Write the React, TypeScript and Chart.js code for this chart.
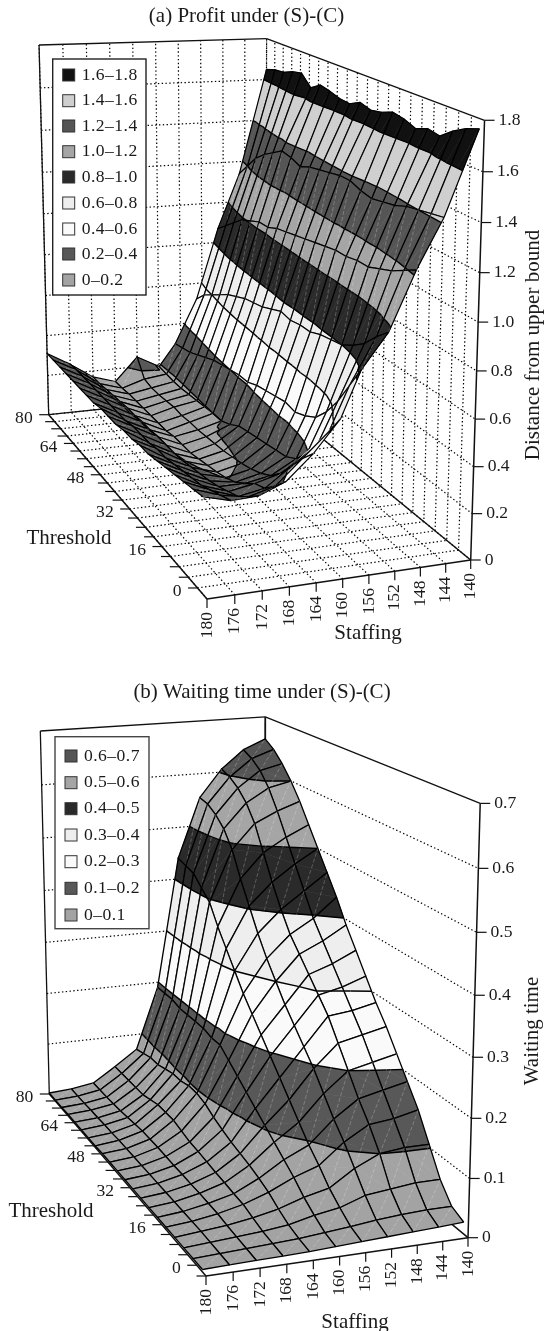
import React, { useEffect, useRef } from "react";
import { Chart, registerables } from "chart.js";

Chart.register(...registerables);

// ---------- data ----------
const thresholdGrid = [0, 4, 8, 12, 16, 20, 24, 28, 32, 36, 40, 44, 48, 52, 56, 60, 64, 68, 72, 76, 80];
const thresholdTicks = [0, 4, 8, 12, 16, 20, 24, 28, 32, 36, 40, 44, 48, 52, 56, 60, 64, 68, 72, 76, 80];
const thresholdLabels = [0, 16, 32, 48, 64, 80];
const staffingTicks = [180, 176, 172, 168, 164, 160, 156, 152, 148, 144, 140];

// (a) distance from upper bound: one row per staffing level, threshold 0..80
const profitStaffing = [140, 145, 149, 153, 157, 160, 164, 168, 172, 176, 180];
const profit140 = [1.76, 1.74, 1.71, 1.67, 1.68, 1.66, 1.68, 1.69, 1.67, 1.66, 1.675, 1.65, 1.655, 1.67, 1.68, 1.65, 1.7, 1.69, 1.67, 1.665, 1.65];
const profit145 = [1.42, 1.41, 1.4, 1.39, 1.37, 1.36, 1.35, 1.36, 1.38, 1.38, 1.37, 1.36, 1.35, 1.33, 1.35, 1.36, 1.33, 1.3, 1.26, 1.2, 1.14];
const profit149 = [1.22, 1.19, 1.16, 1.14, 1.12, 1.12, 1.11, 1.11, 1.1, 1.09, 1.08, 1.07, 1.06, 1.05, 1.03, 1.03, 1.01, 0.99, 0.95, 0.91, 0.87];
const profit153 = [0.98, 0.93, 0.87, 0.83, 0.8, 0.79, 0.78, 0.76, 0.76, 0.75, 0.76, 0.74, 0.72, 0.71, 0.7, 0.68, 0.66, 0.63, 0.6, 0.57, 0.52];
const profit157 = [0.84, 0.74, 0.64, 0.56, 0.5, 0.47, 0.45, 0.46, 0.45, 0.44, 0.43, 0.41, 0.41, 0.4, 0.39, 0.38, 0.36, 0.34, 0.32, 0.31, 0.3];
const profit160 = [0.65, 0.56, 0.47, 0.39, 0.33, 0.3, 0.29, 0.28, 0.27, 0.26, 0.25, 0.22, 0.2, 0.2, 0.195, 0.19, 0.185, 0.18, 0.18, 0.185, 0.19];
const profit164 = [0.52, 0.46, 0.39, 0.32, 0.27, 0.24, 0.22, 0.205, 0.195, 0.185, 0.18, 0.175, 0.17, 0.17, 0.165, 0.17, 0.165, 0.16, 0.16, 0.17, 0.25];
const profit168 = [0.42, 0.36, 0.31, 0.29, 0.25, 0.215, 0.195, 0.18, 0.17, 0.16, 0.15, 0.15, 0.15, 0.14, 0.14, 0.14, 0.14, 0.14, 0.14, 0.135, 0.135];
const profit172 = [0.375, 0.33, 0.29, 0.27, 0.25, 0.235, 0.225, 0.215, 0.205, 0.2, 0.2, 0.2, 0.195, 0.195, 0.19, 0.19, 0.185, 0.18, 0.175, 0.17, 0.17];
const profit176 = [0.37, 0.35, 0.33, 0.31, 0.3, 0.29, 0.28, 0.27, 0.27, 0.26, 0.26, 0.26, 0.25, 0.25, 0.25, 0.25, 0.25, 0.25, 0.25, 0.25, 0.245];
const profit180 = [0.4, 0.39, 0.38, 0.37, 0.36, 0.35, 0.34, 0.34, 0.33, 0.33, 0.32, 0.32, 0.32, 0.31, 0.31, 0.31, 0.31, 0.31, 0.31, 0.31, 0.31];
const profitRows = [profit140, profit145, profit149, profit153, profit157, profit160, profit164, profit168, profit172, profit176, profit180];
const profitBandLow = [0, 0.2, 0.4, 0.6, 0.8, 1.0, 1.2, 1.4, 1.6];
const profitBandLabels = ["0–0.2", "0.2–0.4", "0.4–0.6", "0.6–0.8", "0.8–1.0", "1.0–1.2", "1.2–1.4", "1.4–1.6", "1.6–1.8"];
const profitBandColors = ["#a3a3a3", "#585858", "#fafafa", "#eeeeee", "#2a2a2a", "#a5a5a5", "#555555", "#cfcfcf", "#111111"];
const profitZTicks = [0, 0.2, 0.4, 0.6, 0.8, 1.0, 1.2, 1.4, 1.6, 1.8];

// (b) waiting time: one row per staffing level, threshold 0..80
const waitStaffing = [140, 144, 148, 152, 156, 160, 164, 168, 172, 176, 180];
const wait140 = [0.02, 0.03, 0.06, 0.105, 0.15, 0.185, 0.22, 0.255, 0.285, 0.32, 0.355, 0.39, 0.43, 0.465, 0.5, 0.535, 0.57, 0.6, 0.625, 0.645, 0.658];
const wait144 = [0.018, 0.03, 0.06, 0.105, 0.14, 0.175, 0.21, 0.245, 0.275, 0.305, 0.335, 0.365, 0.395, 0.435, 0.475, 0.515, 0.555, 0.59, 0.615, 0.63, 0.64];
const wait148 = [0.016, 0.028, 0.055, 0.1, 0.135, 0.165, 0.2, 0.235, 0.27, 0.295, 0.32, 0.345, 0.37, 0.405, 0.445, 0.49, 0.535, 0.565, 0.585, 0.598, 0.606];
const wait152 = [0.014, 0.025, 0.05, 0.08, 0.11, 0.135, 0.165, 0.195, 0.22, 0.245, 0.27, 0.3, 0.33, 0.365, 0.405, 0.445, 0.49, 0.52, 0.538, 0.55, 0.554];
const wait156 = [0.012, 0.02, 0.035, 0.052, 0.075, 0.095, 0.12, 0.145, 0.17, 0.195, 0.22, 0.245, 0.27, 0.3, 0.33, 0.36, 0.395, 0.412, 0.43, 0.435, 0.44];
const wait160 = [0.01, 0.016, 0.028, 0.042, 0.06, 0.075, 0.09, 0.105, 0.12, 0.135, 0.15, 0.165, 0.18, 0.18, 0.185, 0.185, 0.185, 0.185, 0.19, 0.19, 0.19];
const wait164 = [0.008, 0.012, 0.018, 0.028, 0.04, 0.048, 0.055, 0.06, 0.065, 0.072, 0.08, 0.09, 0.095, 0.095, 0.09, 0.09, 0.085, 0.08, 0.08, 0.075, 0.07];
const wait168 = [0.007, 0.01, 0.013, 0.019, 0.025, 0.027, 0.03, 0.032, 0.035, 0.038, 0.04, 0.045, 0.05, 0.05, 0.05, 0.045, 0.04, 0.04, 0.04, 0.04, 0.04];
const wait172 = [0.006, 0.008, 0.01, 0.012, 0.015, 0.016, 0.017, 0.017, 0.018, 0.018, 0.019, 0.02, 0.02, 0.02, 0.018, 0.016, 0.014, 0.013, 0.012, 0.012, 0.012];
const wait176 = [0.005, 0.006, 0.007, 0.008, 0.008, 0.008, 0.008, 0.008, 0.008, 0.008, 0.008, 0.008, 0.008, 0.008, 0.007, 0.007, 0.006, 0.006, 0.005, 0.005, 0.005];
const wait180 = [0.004, 0.004, 0.004, 0.004, 0.004, 0.004, 0.004, 0.004, 0.004, 0.004, 0.004, 0.004, 0.004, 0.003, 0.003, 0.003, 0.003, 0.003, 0.002, 0.002, 0.002];
const waitRows = [wait140, wait144, wait148, wait152, wait156, wait160, wait164, wait168, wait172, wait176, wait180];
const waitBandLow = [0, 0.1, 0.2, 0.3, 0.4, 0.5, 0.6];
const waitBandLabels = ["0–0.1", "0.1–0.2", "0.2–0.3", "0.3–0.4", "0.4–0.5", "0.5–0.6", "0.6–0.7"];
const waitBandColors = ["#a3a3a3", "#585858", "#fafafa", "#eeeeee", "#2a2a2a", "#a5a5a5", "#555555"];
const waitZTicks = [0, 0.1, 0.2, 0.3, 0.4, 0.5, 0.6, 0.7];

// ---------- camera: where the corners of the 3D box fall on the page ----------
type P = [number, number];
interface Camera { F: P; R: P; L: P; B: P; Rt: P; Lt: P; Bt: P }
const cameraA: Camera = { F: [207, 599], R: [470.7, 560], L: [48.7, 414.7], B: [265.5, 392], Rt: [485, 119.3], Lt: [39.3, 48.3], Bt: [266, 36.3] };
const cameraB: Camera = { F: [206, 1276], R: [468, 1237.7], L: [49.3, 1094], B: [264.5, 1069], Rt: [481.7, 801], Lt: [40.7, 730.7], Bt: [263.7, 719] };

function makeProjector(c: Camera, zMax: number) {
  const dx1 = c.R[0] - c.B[0], dx2 = c.L[0] - c.B[0], sx = c.F[0] - c.R[0] + c.B[0] - c.L[0];
  const dy1 = c.R[1] - c.B[1], dy2 = c.L[1] - c.B[1], sy = c.F[1] - c.R[1] + c.B[1] - c.L[1];
  const det = dx1 * dy2 - dx2 * dy1;
  const g = (sx * dy2 - dx2 * sy) / det, h = (dx1 * sy - sx * dy1) / det;
  const a = c.R[0] - c.F[0] + g * c.R[0], b = c.L[0] - c.F[0] + h * c.L[0];
  const d = c.R[1] - c.F[1] + g * c.R[1], e = c.L[1] - c.F[1] + h * c.L[1];
  const tops: [number, number, P][] = [[1, 0, c.Rt], [0, 1, c.Lt], [1, 1, c.Bt]];
  let best = { k: 0, m: 0, n: 0, err: Infinity };
  for (let k = -0.6; k < 0.6; k += 0.0005) {
    let m = 0, n = 0;
    const res = tops.map(([s, t, p]) => {
      const D = g * s + h * t + 1 + k;
      return [p[0] * D - (a * s + b * t + c.F[0]), p[1] * D - (d * s + e * t + c.F[1])];
    });
    res.forEach((r) => { m += r[0] / 3; n += r[1] / 3; });
    let err = 0;
    res.forEach((r) => { err += (r[0] - m) ** 2 + (r[1] - n) ** 2; });
    if (err < best.err) best = { k, m, n, err };
  }
  return (S: number, T: number, z: number) => {
    const s = (180 - S) / 40, t = (T + 4) / 84, zn = z / zMax;
    const D = g * s + h * t + 1 + best.k * zn;
    return { x: (a * s + b * t + c.F[0] + best.m * zn) / D, y: (d * s + e * t + c.F[1] + best.n * zn) / D };
  };
}

// ---------- dataset helpers ----------
type XY = { x: number; y: number };
function stroke(data: XY[], color: string, width: number, dash: number[] = []) {
  return { data, showLine: true, pointRadius: 0, borderColor: color, borderWidth: width, borderDash: dash, fill: false, tension: 0, parsing: false, normalized: false, borderCapStyle: "butt" };
}
function poly(data: XY[], fillColor: string, edge: string, width: number) {
  return { data: [...data, data[0]], showLine: true, pointRadius: 0, borderColor: edge, borderWidth: width, fill: "shape", backgroundColor: fillColor, tension: 0, parsing: false, borderJoinStyle: "round" };
}

type V = { S: number; T: number; z: number };
function lerpV(a: V, b: V, z: number): V {
  const f = (z - a.z) / (b.z - a.z);
  return { S: a.S + f * (b.S - a.S), T: a.T + f * (b.T - a.T), z };
}
function clipAbove(pts: V[], lo: number, keepAbove: boolean): V[] {
  const out: V[] = [];
  const inside = (v: V) => (keepAbove ? v.z >= lo : v.z <= lo);
  pts.forEach((p, i) => {
    const q = pts[(i + 1) % pts.length];
    if (inside(p)) out.push(p);
    if (inside(p) !== inside(q)) out.push(lerpV(p, q, lo));
  });
  return out;
}

interface SurfaceSpec {
  staffing: number[]; rows: number[][]; low: number[]; colors: string[]; zMax: number; meshWidth: number;
}
// the surface's first threshold line sits just inside the box corner
const surfT = (T: number) => (T * 82.5) / 80 - 2.5;

function surfaceLayers(spec: SurfaceSpec, proj: (S: number, T: number, z: number) => XY) {
  const out: any[] = [];
  const { staffing, rows, low, colors, meshWidth } = spec;
  const P = (v: V) => proj(v.S, surfT(v.T), v.z);
  const band = (z: number) => {
    let b = 0;
    low.forEach((l, i) => { if (z >= l) b = i; });
    return b;
  };
  for (let it = thresholdGrid.length - 2; it >= 0; it--) {
    for (let is = 0; is < staffing.length - 1; is++) {
      const v = (i: number, j: number): V => ({ S: staffing[i], T: thresholdGrid[j], z: rows[i][j] });
      const q = [v(is, it), v(is + 1, it), v(is + 1, it + 1), v(is, it + 1)];
      const bands = q.map((p) => band(p.z));
      const lo = Math.min(...bands), hi = Math.max(...bands);
      const tris = [[q[0], q[1], q[2]], [q[0], q[2], q[3]]];
      if (lo === hi) {
        out.push(poly(q.map(P), colors[lo], "#000", meshWidth));
      } else {
        tris.forEach((tri) => {
          for (let b = lo; b <= hi; b++) {
            let pg = tri;
            if (b > 0) pg = clipAbove(pg, low[b], true);
            if (b < low.length - 1 && pg.length) pg = clipAbove(pg, low[b + 1], false);
            if (pg.length >= 3) out.push(poly(pg.map(P), colors[b], colors[b], 0.6));
          }
        });
        tris.forEach((tri) => {
          low.slice(1).forEach((L) => {
            const cut: XY[] = [];
            tri.forEach((p, i) => {
              const n = tri[(i + 1) % 3];
              if ((p.z >= L) !== (n.z >= L)) cut.push(P(lerpV(p, n, L)));
            });
            if (cut.length === 2) out.push(stroke(cut, "#000", meshWidth + 0.2));
          });
        });
        out.push(stroke([...q, q[0]].map(P), "#000", meshWidth));
      }
      // faint facet edge
      const mid = colors[band((q[0].z + q[2].z) / 2)];
      if (mid !== "#fafafa" && mid !== "#eeeeee" && mid !== "#cfcfcf") {
        out.push(stroke([P(q[1]), P(q[3])], "rgba(255,255,255,0.4)", 0.6, [4, 2]));
      }
    }
  }
  return out;
}

function boxLayers(proj: (S: number, T: number, z: number) => XY, zTicks: number[], zMax: number, detailed: boolean) {
  const out: any[] = [];
  const dots = [1.4, 2.4];
  const dotC = "#000";
  zTicks.slice(1, -1).forEach((z) => {
    out.push(stroke([proj(180, 80, z), proj(140, 80, z), proj(140, -4, z)], dotC, 1.2, dots));
  });
  if (detailed) {
    thresholdTicks.forEach((T) => {
      out.push(stroke([proj(180, T, 0), proj(140, T, 0), proj(140, T, zMax)], dotC, 1.2, dots));
    });
    staffingTicks.forEach((S) => {
      out.push(stroke([proj(S, -4, 0), proj(S, 80, 0), proj(S, 80, zMax)], dotC, 1.2, dots));
    });
  }
  const solid = (a: XY, b: XY, w = 1.3) => out.push(stroke([a, b], "#111", w));
  solid(proj(180, 80, 0), proj(180, 80, zMax));
  solid(proj(180, 80, zMax), proj(140, 80, zMax));
  solid(proj(140, 80, zMax), proj(140, -4, zMax));
  solid(proj(140, -4, 0), proj(140, -4, zMax), 1.5);
  solid(proj(180, -4, 0), proj(140, -4, 0), 1.5);
  solid(proj(180, -4, 0), proj(180, 80, 0), 1.5);
  solid(proj(180, 80, 0), proj(140, 80, 0));
  solid(proj(140, -4, 0), proj(140, 80, 0), 1.5);
  if (!detailed) solid(proj(140, 80, 0), proj(140, 80, zMax), 1.8);

  // tick marks
  const T0 = detailed ? thresholdTicks : [-4, ...thresholdTicks];
  T0.forEach((T) => {
    const p = proj(180, T, 0);
    out.push(stroke([p, { x: p.x - 9.5, y: p.y }], "#111", 1.2));
  });
  staffingTicks.forEach((S) => {
    const p = proj(S, -4, 0);
    out.push(stroke([p, { x: p.x, y: p.y + 9 }], "#111", 1.2));
  });
  zTicks.forEach((z) => {
    const p = proj(140, -4, z);
    out.push(stroke([p, { x: p.x + 10, y: p.y }], "#111", 1.2));
  });
  return out;
}

// ---------- page text ----------
interface Dressing {
  title: string; titleX: number; titleY: number;
  zTicks: number[]; zDigits: number;
  legend: { x0: number; y0: number; x1: number; y1: number; rowYs: number[]; labels: string[]; colors: string[]; edge: string };
  thresholdLabel: [number, number]; staffingLabel: [number, number];
  zTitle: string; zTitleAt: [number, number];
}

const SERIF = '"Liberation Serif", serif';
function textPlugin(d: Dressing, proj: (S: number, T: number, z: number) => XY, top: number) {
  return {
    id: "textLayer",
    afterDatasetsDraw(chart: any) {
      const ctx: CanvasRenderingContext2D = chart.ctx;
      const sx = chart.scales.x, sy = chart.scales.y;
      const X = (v: number) => sx.getPixelForValue(v), Y = (v: number) => sy.getPixelForValue(v);
      ctx.save();
      ctx.fillStyle = "#1a1a1a";
      ctx.textBaseline = "middle";
      ctx.font = `21px ${SERIF}`;
      ctx.textAlign = "center";
      ctx.fillText(d.title, X(d.titleX), Y(d.titleY));
      ctx.fillText("Threshold", X(d.thresholdLabel[0]), Y(d.thresholdLabel[1]));
      ctx.fillText("Staffing", X(d.staffingLabel[0]), Y(d.staffingLabel[1]));
      ctx.save();
      ctx.translate(X(d.zTitleAt[0]), Y(d.zTitleAt[1]));
      ctx.rotate(-Math.PI / 2);
      ctx.fillText(d.zTitle, 0, 0);
      ctx.restore();

      ctx.font = `17.6px ${SERIF}`;
      ctx.textAlign = "right";
      thresholdLabels.forEach((T) => {
        const p = proj(180, T, 0);
        ctx.fillText(String(T), X(p.x - 16), Y(p.y + 3.5));
      });
      staffingTicks.forEach((S) => {
        const p = proj(S, -4, 0);
        ctx.save();
        ctx.translate(X(p.x), Y(p.y + 13));
        ctx.rotate(-Math.PI / 2);
        ctx.fillText(String(S), 0, 0);
        ctx.restore();
      });
      ctx.textAlign = "left";
      d.zTicks.forEach((z) => {
        const p = proj(140, -4, z);
        ctx.fillText(z === 0 ? "0" : z.toFixed(d.zDigits), X(p.x + 14), Y(p.y));
      });

      const L = d.legend;
      ctx.fillStyle = "#fff";
      ctx.fillRect(X(L.x0), Y(L.y0), L.x1 - L.x0, L.y1 - L.y0);
      ctx.strokeStyle = L.edge;
      ctx.lineWidth = 1.4;
      ctx.strokeRect(X(L.x0), Y(L.y0), L.x1 - L.x0, L.y1 - L.y0);
      ctx.font = `17.6px ${SERIF}`;
      (ctx as any).letterSpacing = "0.45px";
      L.rowYs.forEach((y, i) => {
        const idx = L.labels.length - 1 - i;
        ctx.fillStyle = L.colors[idx];
        ctx.fillRect(X(L.x0 + 10), Y(y - 6), 12, 12);
        ctx.strokeStyle = "#333";
        ctx.lineWidth = 1;
        ctx.strokeRect(X(L.x0 + 10), Y(y - 6), 12, 12);
        ctx.fillStyle = "#1a1a1a";
        ctx.fillText(L.labels[idx], X(L.x0 + 29), Y(y));
      });
      ctx.restore();
    },
  };
}

function useSurfaceChart(
  ref: React.RefObject<HTMLCanvasElement | null>,
  top: number, height: number, camera: Camera, spec: SurfaceSpec, zTicks: number[], detailed: boolean, dressing: Dressing
) {
  useEffect(() => {
    if (!ref.current) return;
    const proj = makeProjector(camera, spec.zMax);
    const layers = [...boxLayers(proj, zTicks, spec.zMax, detailed), ...surfaceLayers(spec, proj)];
    // Chart.js paints dataset 0 last, so hand the painter's order over reversed
    const chart = new Chart(ref.current, {
      type: "scatter",
      data: { datasets: layers.reverse() },
      options: {
        animation: false, responsive: false, events: [],
        layout: { padding: 0 },
        plugins: { legend: { display: false }, tooltip: { enabled: false }, title: { display: false } },
        scales: {
          x: { type: "linear", min: 0, max: 550, display: false },
          y: { type: "linear", min: top, max: top + height, reverse: true, display: false },
        },
      },
      plugins: [textPlugin(dressing, proj, top)],
    } as any);
    return () => chart.destroy();
  }, []);
}

const dressingA: Dressing = {
  title: "(a) Profit under (S)-(C)", titleX: 246.5, titleY: 16,
  zTicks: profitZTicks, zDigits: 1,
  legend: { x0: 52.7, y0: 59, x1: 146, y1: 295, rowYs: [75, 100.7, 126, 151.7, 177, 203, 229, 254, 280], labels: profitBandLabels, colors: profitBandColors, edge: "#222" },
  thresholdLabel: [69, 538], staffingLabel: [368, 633],
  zTitle: "Distance from upper bound", zTitleAt: [533, 345],
};
const dressingB: Dressing = {
  title: "(b) Waiting time under (S)-(C)", titleX: 262, titleY: 692,
  zTicks: waitZTicks, zDigits: 1,
  legend: { x0: 55, y0: 736.7, x1: 149, y1: 928.7, rowYs: [756, 782.7, 808.7, 835, 861.7, 888.3, 915], labels: waitBandLabels, colors: waitBandColors, edge: "#444" },
  thresholdLabel: [51, 1211], staffingLabel: [355, 1322],
  zTitle: "Waiting time", zTitleAt: [532, 1031],
};
const specA: SurfaceSpec = { staffing: profitStaffing, rows: profitRows, low: profitBandLow, colors: profitBandColors, zMax: 1.8, meshWidth: 1.2 };
const specB: SurfaceSpec = { staffing: waitStaffing, rows: waitRows, low: waitBandLow, colors: waitBandColors, zMax: 0.7, meshWidth: 1.3 };

export default function App() {
  const a = useRef<HTMLCanvasElement>(null);
  const b = useRef<HTMLCanvasElement>(null);
  useSurfaceChart(a, 0, 660, cameraA, specA, profitZTicks, true, dressingA);
  useSurfaceChart(b, 660, 671, cameraB, specB, waitZTicks, false, dressingB);
  return (
    <div style={{ position: "absolute", left: 0, top: 0, width: 550, height: 1331, background: "#fff" }}>
      <canvas ref={a} width={550} height={660} style={{ position: "absolute", left: 0, top: 0, display: "block" }} />
      <canvas ref={b} width={550} height={671} style={{ position: "absolute", left: 0, top: 660, display: "block" }} />
    </div>
  );
}
